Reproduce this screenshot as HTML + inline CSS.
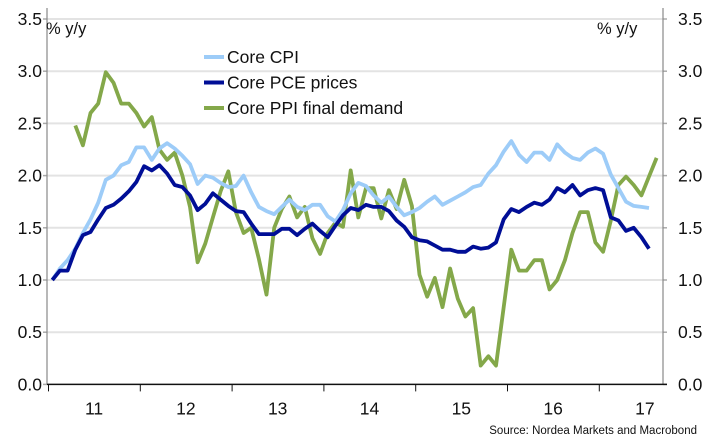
<!DOCTYPE html>
<html><head><meta charset="utf-8"><style>
html,body{margin:0;padding:0;background:#fff;width:710px;height:448px;overflow:hidden}
svg text{font-family:"Liberation Sans",sans-serif;fill:#111}
</style></head><body>
<svg id="chart" width="710" height="448">
<g id="grid"></g><g id="axes"></g><g id="series"></g><g id="legend"></g>
<text x="46" y="34" font-size="16.5">% y/y</text>
<text x="597" y="34" font-size="16.5">% y/y</text>
<text x="697" y="434" font-size="11.5" text-anchor="end">Source: Nordea Markets and Macrobond</text>
</svg>
<script>
const yTicks=[0,0.5,1.0,1.5,2.0,2.5,3.0,3.5];
const yearLabels=["11","12","13","14","15","16","17"];
const cpi=[1.0,1.11,1.19,1.3,1.45,1.58,1.74,1.96,2.0,2.1,2.13,2.27,2.27,2.15,2.26,2.31,2.26,2.19,2.11,1.92,2.0,1.98,1.93,1.89,1.9,2.0,1.84,1.7,1.66,1.63,1.7,1.77,1.7,1.67,1.72,1.72,1.61,1.56,1.67,1.83,1.93,1.9,1.81,1.74,1.80,1.70,1.62,1.65,1.69,1.75,1.80,1.72,1.76,1.80,1.84,1.89,1.91,2.02,2.10,2.23,2.33,2.20,2.13,2.22,2.22,2.15,2.30,2.22,2.17,2.15,2.22,2.26,2.21,2.01,1.88,1.75,1.71,1.70,1.69];
const pce=[1.0,1.09,1.09,1.29,1.43,1.46,1.58,1.69,1.72,1.78,1.85,1.94,2.09,2.05,2.10,2.02,1.91,1.89,1.81,1.67,1.73,1.83,1.77,1.71,1.66,1.65,1.54,1.44,1.44,1.44,1.49,1.49,1.43,1.49,1.54,1.47,1.41,1.52,1.62,1.69,1.67,1.72,1.70,1.70,1.66,1.57,1.51,1.41,1.38,1.37,1.33,1.29,1.29,1.27,1.27,1.32,1.30,1.31,1.36,1.58,1.68,1.65,1.70,1.74,1.72,1.77,1.88,1.84,1.91,1.81,1.86,1.88,1.86,1.60,1.57,1.47,1.50,1.41,1.30];
const ppiStart=3;
const ppi=[2.48,2.29,2.60,2.69,2.99,2.89,2.69,2.69,2.60,2.47,2.56,2.25,2.15,2.22,2.0,1.7,1.17,1.35,1.6,1.85,2.04,1.65,1.45,1.5,1.2,0.86,1.5,1.68,1.8,1.6,1.7,1.4,1.25,1.45,1.55,1.51,2.05,1.6,1.88,1.88,1.59,1.86,1.68,1.96,1.71,1.05,0.84,1.02,0.74,1.11,0.82,0.65,0.73,0.18,0.27,0.18,0.74,1.29,1.09,1.09,1.19,1.19,0.91,1.0,1.19,1.45,1.65,1.65,1.36,1.27,1.57,1.91,1.99,1.91,1.81,1.99,2.17];

const NS="http://www.w3.org/2000/svg";
const L=47,R=663,Y0=384.4,PER=104.4;
const y=v=>Y0-v*PER;
const x=i=>52.3+i*7.65;
function mk(tag,attrs,parent){const e=document.createElementNS(NS,tag);for(const k in attrs)e.setAttribute(k,attrs[k]);document.getElementById(parent).appendChild(e);return e;}

yTicks.forEach(t=>{
  if(t>0){const g=mk('line',{x1:L,x2:R,y1:y(t),y2:y(t),stroke:'#e3e3e3','stroke-width':2},'grid');
  
  }
  const a=mk('text',{x:42,y:y(t)+6,'font-size':17.5,'text-anchor':'end'},'axes');a.textContent=t.toFixed(1);
  
  
  const b=mk('text',{x:678,y:y(t)+6,'font-size':17.5},'axes');b.textContent=t.toFixed(1);
  
  
  mk('line',{x1:L-4,x2:L,y1:y(t),y2:y(t),stroke:'#aaa','stroke-width':1.5},'axes');
  mk('line',{x1:R,x2:R+4,y1:y(t),y2:y(t),stroke:'#aaa','stroke-width':1.5},'axes');
});
mk('line',{x1:L,x2:L,y1:8,y2:Y0,stroke:'#888','stroke-width':1.2},'axes');
mk('line',{x1:R,x2:R,y1:8,y2:Y0,stroke:'#888','stroke-width':1.2},'axes');
const xa=mk('line',{x1:L,x2:R+4,y1:Y0,y2:Y0,stroke:'#111','stroke-width':1.5},'axes');


yearLabels.forEach((lab,k)=>{
  const bx=x(k*12)-3.8;
  mk('line',{x1:bx,x2:bx,y1:Y0,y2:Y0+7,stroke:'#111','stroke-width':1},'axes');
  const t=mk('text',{x:bx+45.6,y:Y0+30,'font-size':17.5,'text-anchor':'middle'},'axes');t.textContent=lab;
  
  
});
function line(vals,off,color,name){
  const d=vals.map((v,i)=>(i?'L':'M')+x(i+off).toFixed(1)+' '+y(v).toFixed(1)).join(' ');
  const p=mk('path',{d:d,fill:'none',stroke:color,'stroke-width':3.8,'stroke-linejoin':'round'},'series');
  
  
}
line(ppi,ppiStart,'#84a84a','core-ppi-line');
line(cpi,0,'#9dccf8','core-cpi-line');
line(pce,0,'#000e96','core-pce-line');
[["Core CPI",'#9dccf8'],["Core PCE prices",'#000e96'],["Core PPI final demand",'#84a84a']].forEach((e,k)=>{
  const yy=57+k*25.5;
  mk('line',{x1:204,x2:224,y1:yy,y2:yy,stroke:e[1],'stroke-width':4},'legend');
  const t=mk('text',{x:227,y:yy+6,'font-size':17.5},'legend');t.textContent=e[0];
  
  
});
</script>
</body></html>
